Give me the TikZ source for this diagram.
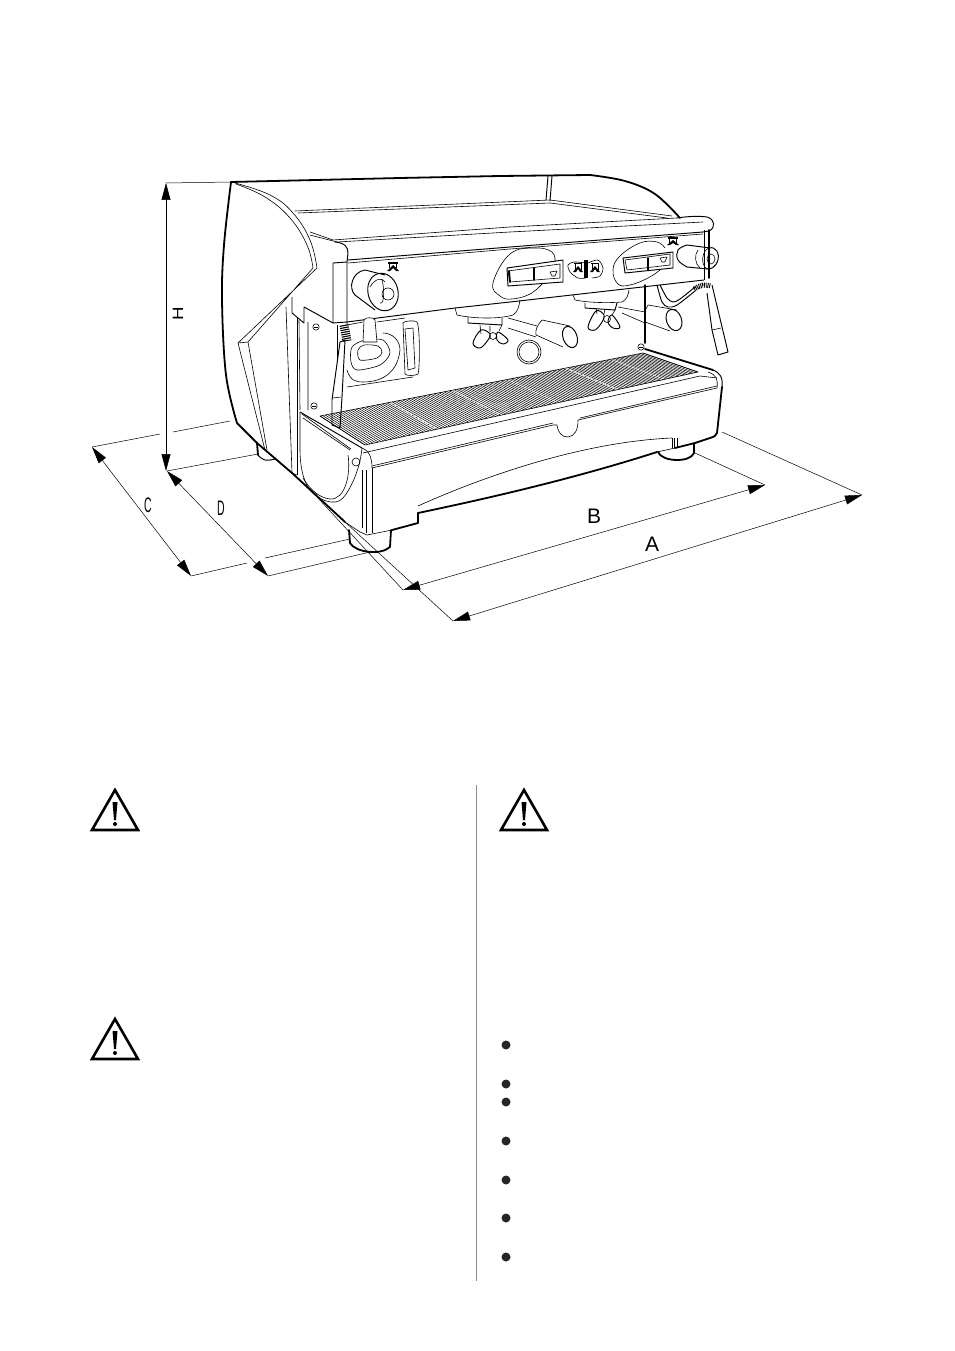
\documentclass[tikz,border=0pt]{standalone}
\usepackage{fontspec}
\setmainfont{Liberation Sans}
\usetikzlibrary{arrows.meta,calc}
\tikzset{
  thn/.style={line width=.6pt,line join=round},
  med/.style={line width=.95pt,line join=round},
  thk/.style={line width=1.8pt,line join=round,line cap=round},
  dimline/.style={line width=.5pt,{Triangle[length=17pt,width=9pt]}-{Triangle[length=17pt,width=9pt]}},
  extline/.style={line width=.5pt},
  dimlabel/.style={inner sep=0pt,font=\fontsize{21}{21}\selectfont},
  bulletdot/.style={circle,fill=black!85,inner sep=0pt,minimum size=9pt},
  warnsign/.style={line width=2.6pt,line join=miter}
}
\begin{document}
\begin{tikzpicture}[x=1pt,y=-1pt]
\useasboundingbox (0,0) rectangle (954,1351);
% dimension points
\coordinate (Htop) at (166,183);
\coordinate (Hbot) at (166,471);
\coordinate (Ctop) at (92,447);
\coordinate (Cbot) at (191,576);
\coordinate (Dtop) at (167,471);
\coordinate (Dbot) at (268,576);
\coordinate (Bleft) at (403,590);
\coordinate (Bright) at (765,485);
\coordinate (Aleft) at (453,621);
\coordinate (Aright) at (862,495);
\draw[dimline] (Htop) -- (Hbot);
\draw[dimline] (Ctop) -- (Cbot);
\draw[dimline] (Dtop) -- (Dbot);
\draw[dimline] (Bleft) -- (Bright);
\draw[dimline] (Aleft) -- (Aright);
% extension lines
\coordinate (e1) at (160,434);
\coordinate (e2) at (173,432);
\coordinate (e3) at (230,421);
\coordinate (e4) at (258,454);
\coordinate (e5) at (247,563);
\coordinate (e6) at (265,558);
\coordinate (e7) at (350,539);
\coordinate (e8) at (370,552);
\coordinate (e9) at (695,453);
\coordinate (e10) at (722,432);
\coordinate (e11) at (345,522);
\coordinate (e12) at (317,497);
\draw[extline] (Htop) -- (231,182);
\draw[extline] (Ctop) -- (e1) (e2) -- (e3);
\draw[extline] (Dtop) -- (e4);
\draw[extline] (Cbot) -- (e5) (e6) -- (e7);
\draw[extline] (Dbot) -- (e8);
\draw[extline] (e9) -- (Bright);
\draw[extline] (e10) -- (Aright);
\draw[extline] (e11) -- (Aleft);
\draw[extline] (e12) -- (Bleft);
\node[dimlabel,rotate=90,xscale=1.25,transform shape,font=\fontsize{15}{15}\selectfont] (labH) at (178,314) {H};
\node[dimlabel,xscale=.5,transform shape] (labC) at (148,505) {C};
\node[dimlabel,xscale=.5,transform shape] (labD) at (221,508) {D};
\node[dimlabel] (labB) at (594,516) {B};
\node[dimlabel] (labA) at (652,544) {A};
% outer body
\draw[thk] plot[smooth,tension=.6] coordinates {(231,182) (224,245) (222,300) (226,375) (237,423)};
\draw[thk] (237,423) -- (257,443) -- (292,473) -- (345,522);
\draw[thk] (231,182) -- (400,178) -- (500,176) -- (590,175);
\draw[thk] plot[smooth,tension=.6] coordinates {(590,175) (625,181) (655,194) (680,218)};
\draw[med] (548,176) -- (546,200) (552,176) -- (550,201);
% side panel
\draw[thn] plot[smooth,tension=.7] coordinates {(235,183) (270,195) (293,213) (310,240) (317,268)};
\draw[thn] plot[smooth,tension=.7] coordinates {(236,184) (265,197) (290,218) (307,245) (313,268)};
\draw[thn] (317,268) -- (238,343) -- (265,450) (313,268) -- (248,342) -- (267,450);
\draw[thn] (238,343) -- (248,342);
\draw[thn] (286,307) -- (292,473) -- (297,475);
\draw[med] (297,318) -- (297,475);
\draw[thn] (299,320) -- (300,410) (308,322) -- (308,410);
\draw[med] (292,297) -- (292,313) -- (304,323) -- (304,307) -- (333,323);
\draw[thk] (257,443) -- (258,455);
\draw[med] plot[smooth,tension=.8] coordinates {(258,455) (265,460) (275,459)};
% top shelf
\draw[thn] (295,211) -- (550,200) -- (672,216);
\draw[thn] (298,213) -- (550,203) -- (667,218);
\draw[thn] (310,232) -- (333,240) -- (510,227) -- (677,218);
\draw[thn] (310,235) -- (337,242) -- (510,232) -- (703,222);
\draw[med] (348,260) -- (510,247) -- (703,232);
\draw[thn] (348,263) -- (510,249) -- (703,234);
\draw[med] (335,242) .. controls (345,243) and (348,247) .. (348,253) -- (347,262) -- (333,263);
\draw[med] (333,263) -- (333,323) -- (347,322) -- (347,262);
\draw[med] (677,218) .. controls (690,216) and (700,216) .. (707,217) .. controls (715,219) and (716,228) .. (709,231) -- (703,232);
\draw[med] (347,322) -- (455,308) -- (510,302) -- (704,280);
\draw[med] (704,230) -- (704,280);
\draw[thk] (709,230) -- (709,278);
\draw[thk] (645,285) -- (645,343);
% left knob and badge
\draw[med] (365,270) -- (385,275) (355,295) -- (375,310);
\draw[med] (365,270) .. controls (352,272) and (348,288) .. (355,295);
\draw[med,rotate around={15:(383,292)}] (383,292) ellipse (15 and 19);
\draw[thn] (388,294) circle (6);
\draw[thn] (370,287) .. controls (376,277) and (383,278) .. (385,282) (380,303) .. controls (385,305) and (384,286) .. (382,280);
\fill (388,262) rectangle (398,264);
\draw[med] (389,262) -- (389,268) (396,262) -- (396,268);
\fill (387,271) -- (393,265) -- (399,271) -- (396,271) -- (393,268) -- (390,271) -- cycle;
% left display
\draw[thn] plot[smooth,tension=.7] coordinates {(555,262) (552,252) (535,248) (510,254) (493,283) (500,296) (512,299) (530,294) (543,283)};
\draw[med] (507,268) -- (563,260) -- (563,282) -- (508,286) -- cycle;
\draw[thn] (508,271) -- (560,264) -- (560,278) -- (510,282) -- cycle;
\draw[thk] (509,271) -- (510,282) (534,268) -- (534,280);
\draw[thn] (550,272) -- (557,271) -- (555,276) -- (552,276) -- cycle;
% middle buttons
\draw[thn] plot[smooth,tension=.5] coordinates {(586,263) (574,262) (568,265) (570,272) (578,278) (586,278)};
\draw[thn] plot[smooth,tension=.5] coordinates {(588,263) (598,260) (603,268) (600,276) (592,278)};
\draw[line width=3.5pt] (586,260) -- (586,278);
\foreach \bx in {578,595} {
  \draw[thn] (\bx-4,263) -- (\bx+4,263) (\bx-3,263) -- (\bx-3,270) (\bx+3,263) -- (\bx+3,270);
  \fill (\bx-5,272) -- (\bx,266) -- (\bx+5,272) -- (\bx+2,272) -- (\bx,269) -- (\bx-2,272) -- cycle;
}
% right display
\draw[thn] plot[smooth,tension=.7] coordinates {(665,248) (657,242) (640,243) (620,256) (613,270) (618,284) (630,285) (648,278) (660,270)};
\draw[med] (623,258) -- (673,252) -- (673,268) -- (625,273) -- cycle;
\draw[thn] (625,260) -- (670,254) -- (670,265) -- (627,270) -- cycle;
\draw[thk] (648,258) -- (648,270);
\draw[thn] (660,258) -- (667,257) -- (665,262) -- (662,262) -- cycle;
% right badge and knob
\fill (668,237) rectangle (678,239);
\draw[med] (669,237) -- (669,243) (676,237) -- (676,243);
\fill (667,245) -- (673,240) -- (679,245) -- (676,245) -- (673,243) -- (670,245) -- cycle;
\draw[med] plot[smooth,tension=.7] coordinates {(687,245) (678,250) (678,260) (687,267)};
\draw[med] (687,245) -- (710,248) (687,267) -- (708,269);
\draw[med] (709,248) .. controls (716,246) and (720,254) .. (718,260) .. controls (716,267) and (710,270) .. (707,269);
\draw[thn] (711,259) ellipse (4 and 5);
\draw[thn] (698,250) .. controls (694,255) and (695,264) .. (700,268);
\draw[thn] (709,248) .. controls (702,250) and (700,265) .. (707,269);
% left group head
\draw[thn] (455,308) -- (457,315) .. controls (475,319) and (500,319) .. (513,315) .. controls (518,312) and (519,306) .. (520,300);
\draw[med] (468,317) -- (468,323) -- (502,325) -- (502,318);
\draw[thn] (480,325) -- (481,334) (490,326) -- (490,332) (502,325) -- (499,331);
\draw[thn] (493,336) circle (3.5);
\draw[med] plot[smooth cycle,tension=.6] coordinates {(481,330) (473,343) (480,348) (488,340) (490,334)};
\draw[med] plot[smooth cycle,tension=.6] coordinates {(498,332) (508,340) (503,344) (497,340)};
\draw[thn] (508,318) -- (537,326) (508,328) -- (536,337);
\draw[thn] (542,320) -- (570,326) (536,335) -- (563,347);
\draw[thn] (542,320) .. controls (537,325) and (535,331) .. (536,335);
\draw[med,rotate around={20:(570,337)}] (570,337) ellipse (7 and 11);
\draw[thn] (529,352) circle (12) (529,352) circle (10);
% right group head
\draw[thn] (573,295) -- (575,300) .. controls (590,303) and (610,303) .. (622,302) .. controls (627,299) and (628,296) .. (629,290);
\draw[med] (585,303) -- (585,308) -- (615,310) -- (617,303);
\draw[thn] (596,308) -- (597,314) (605,309) -- (604,314) (615,310) -- (612,315);
\draw[thn] (607,319) circle (3.5);
\draw[med] plot[smooth cycle,tension=.6] coordinates {(596,311) (588,327) (595,330) (602,322) (604,315)};
\draw[med] plot[smooth cycle,tension=.6] coordinates {(612,315) (620,327) (613,328) (608,322)};
\draw[thn] (618,307) -- (645,312) (622,313) -- (645,323);
\draw[thn] (648,305) -- (677,310) (645,322) -- (670,331);
\draw[thn] (648,305) .. controls (644,311) and (644,317) .. (645,322);
\draw[med,rotate around={20:(674,320)}] (674,320) ellipse (7.5 and 11);
% right steam wand
\draw[med] plot[smooth,tension=.5] coordinates {(657,285) (662,302) (668,307) (677,305) (695,291)};
\draw[med] plot[smooth,tension=.5] coordinates {(660,285) (667,298) (673,302) (680,299) (695,287)};
\draw[line width=5pt,dash pattern=on .9pt off .9pt] (694,289) .. controls (700,285) and (705,284) .. (711,286);
\draw[med] (712,285) -- (728,352) -- (718,355) -- (712,330) (707,293) -- (712,330);
\draw[thn] (712,330) -- (721,328);
% screws
\foreach \sx/\sy in {316/327,314/406,641/347} {
  \draw[thn] (\sx,\sy) circle (3.2);
  \draw[thn] (\sx-2,\sy) -- (\sx+2,\sy);
}
% back wall group
\draw[thn] (337,325) -- (337,370);
\draw[thn] (347,322) -- (347,325) -- (363,322) (377,322) -- (405,318);
\draw[thn] (347,387) -- (413,377) (347,370) .. controls (350,380) and (355,382) .. (363,382) .. controls (385,382) and (398,370) .. (400,350) .. controls (400,340) and (392,333) .. (383,333);
\draw[thn] plot[smooth cycle,tension=.5] coordinates {(352,347) (351,362) (357,370) (380,365) (390,353) (383,340) (365,340)};
\draw[thn] plot[smooth cycle,tension=.5] coordinates {(358,350) (360,360) (377,358) (382,352) (378,346) (364,345)};
\draw[thn,fill=white] (363,342) -- (364,320) .. controls (365,317) and (374,317) .. (375,320) -- (377,342) -- cycle;
\draw[thn] (403,323) .. controls (403,321) and (415,320) .. (417,322) .. controls (420,326) and (420,368) .. (418,374) .. controls (415,376) and (406,376) .. (405,374) -- cycle;
\draw[thn] (405,329) -- (413,328) -- (415,368) -- (408,370) -- cycle;
% left steam wand
\draw[med,fill=white] (340,342) -- (332,400) -- (332,425) -- (340,428) -- (342,397) -- (345,340) -- cycle;
\draw[thn] (333,398) -- (341,397);
\draw[line width=9pt,dash pattern=on 1.1pt off 1.1pt] (344,325) -- (347,341);
% tray grate
\coordinate (grA) at (320,416);
\coordinate (grB) at (643,353);
\coordinate (grC) at (698,372);
\coordinate (grD) at (365,445);
\foreach \t in {0,0.008,...,1} {
  \draw[line width=.5pt] ($(grA)!\t!(grB)$) -- ($(grD)!\t!(grC)$);
}
\foreach \t in {.217,.41,.58,.76,.9} {
  \draw[white,line width=.7pt,dash pattern=on 3pt off 1.5pt] ($(grA)!\t!(grB)$) -- ($(grD)!\t!(grC)$);
}
\draw[thn] (grA) -- (grB) -- (grC) -- (grD) -- cycle;
% tray top and front
\draw[thn] (363,453) -- (700,376) -- (717,378);
\draw[thk] (645,349) -- (713,370);
\draw[med] (713,370) .. controls (720,373) and (723,377) .. (722,387);
\draw[thn] (708,372) .. controls (717,375) and (718,380) .. (717,388);
\draw[thn] (372,468) -- (553,425) -- (557,425) .. controls (558,433) and (562,437) .. (568,437) .. controls (575,436) and (578,430) .. (578,420) -- (717,388);
\draw[thn] (372,466) -- (553,423);
\draw[thn] (580,418) -- (717,386);
\draw[thk] (722,387) -- (717,433) .. controls (716,436) and (714,436) .. (713,437) -- (695,443);
% end cap
\draw[med] (300,412) -- (362,448);
\draw[thn] (300,412) -- (300,450) .. controls (300,462) and (302,480) .. (310,490) .. controls (318,500) and (335,507) .. (343,498) .. controls (350,490) and (360,470) .. (362,448);
\draw[thn] (303,418) -- (350,450) (302,414) -- (351,449);
\draw[thn] (348,455) .. controls (351,475) and (345,500) .. (330,499) .. controls (320,498) and (310,490) .. (303,478);
\draw[thn] (356,462) circle (4);
\draw[thn] (362,448) .. controls (368,450) and (372,456) .. (372,468);
% front corner and bottom
\draw[thn] (362,470) -- (362,528) (372,468) -- (372,533);
\draw[med] (366,470) -- (366,533);
\draw[thn] (345,522) -- (360,532) -- (367,535) -- (392,530);
\draw[thk] (392,530) -- (418,523) -- (418,513);
\draw[thk] (418,513) .. controls (480,500) and (570,480) .. (657,452);
\draw[thn] (418,506) .. controls (480,478) and (580,442) .. (672,438);
\draw[thn] (672,438) -- (672,448) (674,438) -- (674,448) (677,438) -- (677,448);
\draw[thn] (657,452) -- (675,448);
\draw[thk] (675,448) -- (695,443);
% feet
\draw[thk] (349,530) -- (350,543) .. controls (355,552) and (380,556) .. (390,547) -- (391,530);
\draw[thk] (658,452) .. controls (662,462) and (690,463) .. (694,453) -- (694,443);
% warning signs
\foreach \wx/\wy/\wn in {115/790/a,524/790/b,115/1019/c} {
  \coordinate (warn\wn) at (\wx,\wy);
  \draw[warnsign] (warn\wn) -- ++(-23,40) -- ++(46,0) -- cycle;
  \fill (\wx-2.5,\wy+12) -- (\wx+2.5,\wy+12) -- (\wx+1,\wy+30) -- (\wx-1,\wy+30) -- cycle;
  \fill (\wx,\wy+34) circle (2);
}
% right column
\draw[black!45,line width=.8pt] (476,785) -- (476,1281);
\foreach \by [count=\bi] in {1045,1084,1102,1141,1180,1218,1257} {
  \node[bulletdot] (bul\bi) at (506,\by) {};
}
\end{tikzpicture}
\end{document}
